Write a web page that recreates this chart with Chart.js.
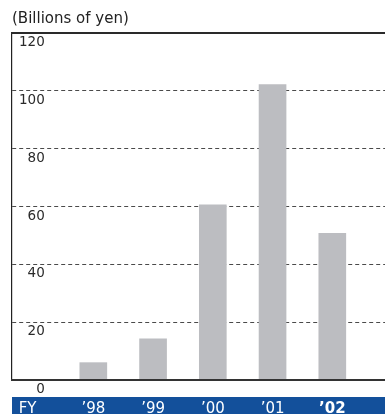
<!DOCTYPE html>
<html>
<head>
<meta charset="utf-8">
<script src="https://cdn.jsdelivr.net/npm/chart.js@4/dist/chart.umd.min.js"></script>
<style>
  html, body { margin: 0; padding: 0; background: #ffffff; }
  #wrap { width: 385px; height: 414px; }
</style>
</head>
<body>
<div id="wrap"><canvas id="c" width="385" height="414"></canvas></div>
<script>
// ---- data ----
const years = ["\u201998", "\u201999", "\u201900", "\u201901", "\u201902"];
const values = [6.0, 14.2, 60.6, 102.2, 50.7];
const fyLabel = "FY";
const yTicks = [0, 20, 40, 60, 80, 100, 120];
const unitTitle = "(Billions of yen)";

const FONT = "'DejaVu Sans', sans-serif";
const fyPos = -1.10;

const chart = new Chart(document.getElementById('c'), {
  type: 'bar',
  data: {
    datasets: [{
      data: years.map((_, i) => ({ x: i, y: values[i] })),
      backgroundColor: '#bcbdc1',
      borderWidth: 0,
      barThickness: 27,
      xAxisID: 'x',
      yAxisID: 'y'
    }]
  },
  options: {
    responsive: false,
    animation: false,
    events: [],
    layout: { padding: { left: 12, right: 0, top: 0, bottom: 0 } },
    plugins: {
      legend: { display: false },
      tooltip: { enabled: false },
      title: {
        display: true,
        text: unitTitle,
        align: 'start',
        color: '#222',
        font: { family: FONT, size: 15, weight: 'normal', lineHeight: 1.2 },
        padding: { top: 10, bottom: 5 }
      }
    },
    scales: {
      y: {
        type: 'linear',
        position: 'left',
        min: 0,
        max: 120,
        afterBuildTicks: (s) => { s.ticks = yTicks.map(v => ({ value: v })); },
        afterFit: (s) => { s.width = 0; },
        grid: {
          drawTicks: false,
          lineWidth: 1,
          color: (ctx) => (ctx.tick && (ctx.tick.value === 0 || ctx.tick.value === 120)) ? 'rgba(0,0,0,0)' : '#4a4a4a'
        },
        border: { display: true, color: '#222', width: 1.2, dash: [4, 3], z: 1 },
        ticks: {
          mirror: true,
          crossAlign: 'far',
          padding: 7,
          labelOffset: 9.5,
          color: '#2a2a2a',
          font: { family: FONT, size: 13.5 }
        }
      },
      xtop: {
        type: 'linear',
        axis: 'x',
        position: 'top',
        min: 0, max: 1,
        offset: false,
        afterFit: (s) => { s.height = 0; },
        grid: { display: false, drawTicks: false },
        border: { display: true, color: '#2a2a2a', width: 2, z: 1 },
        ticks: { display: false }
      },
      xgap: {
        type: 'linear',
        axis: 'x',
        position: 'bottom',
        weight: 0,
        min: 0, max: 1,
        offset: false,
        afterFit: (s) => { s.height = 17; },
        grid: { display: false, drawTicks: false },
        border: { display: true, color: '#333', width: 2, z: 1 },
        ticks: { display: false }
      },
      x: {
        type: 'linear',
        position: 'bottom',
        weight: 1,
        min: -1.361,
        max: 4.882,
        offset: false,
        backgroundColor: '#13509b',
        afterBuildTicks: (s) => {
          s.ticks = [{ value: fyPos }].concat(years.map((_, i) => ({ value: i })));
        },
        afterFit: (s) => { s.height = 17; },
        grid: { display: false, drawTicks: false, offset: false },
        border: { display: false },
        ticks: {
          autoSkip: false,
          maxRotation: 0,
          padding: 3,
          color: '#ffffff',
          font: (ctx) => ({
            family: FONT,
            size: 15,
            weight: (ctx.tick && ctx.tick.value === years.length - 1) ? 'bold' : 'normal'
          }),
          callback: (v) => {
            if (Math.abs(v - fyPos) < 1e-6) return fyLabel;
            const i = Math.round(v);
            return years[i];
          }
        }
      }
    }
  }
});
</script>
</body>
</html>
